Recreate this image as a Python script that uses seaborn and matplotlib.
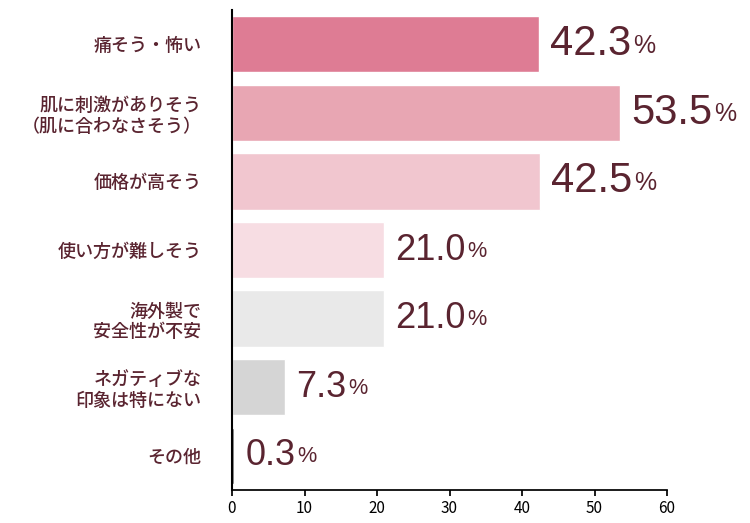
import matplotlib
matplotlib.use("Agg")
import matplotlib.pyplot as plt
import seaborn as sns
import pandas as pd
from matplotlib.transforms import offset_copy

categories = ["痛そう・怖い", "肌に刺激がありそう\n（肌に合わなさそう）", "価格が高そう", "使い方が難しそう",
              "海外製で\n安全性が不安", "ネガティブな\n印象は特にない", "その他"]
values = [42.3, 53.5, 42.5, 21.0, 21.0, 7.3, 0.3]
colors = ["#de7c94", "#e8a6b3", "#f1c6cf", "#f7dde3", "#e9e9e9", "#d5d5d5", "#444444"]
big = [True, True, True, False, False, False, False]

sns.set_theme(style="white")
plt.rcParams['font.family'] = ['Noto Sans CJK JP', 'DejaVu Sans']
tc = "#5a2430"
numfam = ["Liberation Sans Narrow", "Liberation Sans", "DejaVu Sans"]

fig = plt.figure(figsize=(7.5, 5.23), dpi=100)
ax = fig.add_axes([232/750, 1-490/523, 435/750, 480/523])
df = pd.DataFrame({"cat": categories, "val": values})
sns.barplot(data=df, y="cat", x="val", hue="cat", palette=colors, legend=False,
            width=0.82, ax=ax, saturation=1)
ax.set_xlim(0, 60)
ax.set_ylim(6.5, -0.5)
ax.set_xticks(range(0, 61, 10))
ax.set_xlabel(""); ax.set_ylabel("")
for s in ["top", "right"]:
    ax.spines[s].set_visible(False)
ax.spines["left"].set_color("black"); ax.spines["left"].set_linewidth(1.5)
ax.spines["bottom"].set_color("black")
ax.tick_params(axis="x", bottom=True, length=4, labelsize=11, colors="black")
ax.tick_params(axis="y", length=0, labelsize=13, pad=22)
for t in ax.get_yticklabels():
    t.set_color(tc); t.set_ha("right"); t.set_fontweight("medium")
for i, v in enumerate(values):
    fs = 30 if big[i] else 26
    tr = offset_copy(ax.transData, fig=fig, x=11, y=0, units="dots")
    t = ax.text(v, i, f"{v:.1f}", transform=tr, fontsize=fs, color=tc, va="center", ha="left",
                family=numfam)
    fig.canvas.draw()
    bb = t.get_window_extent()
    x2 = bb.x1 + 2
    y = ax.transData.transform((0, i))[1]
    fig.text(x2 / 750, (y - fs*0.45) / 523, "%", fontsize=fs*0.6, color=tc, va="bottom", ha="left",
             family=numfam)
fig.savefig("out.png", dpi=100)
